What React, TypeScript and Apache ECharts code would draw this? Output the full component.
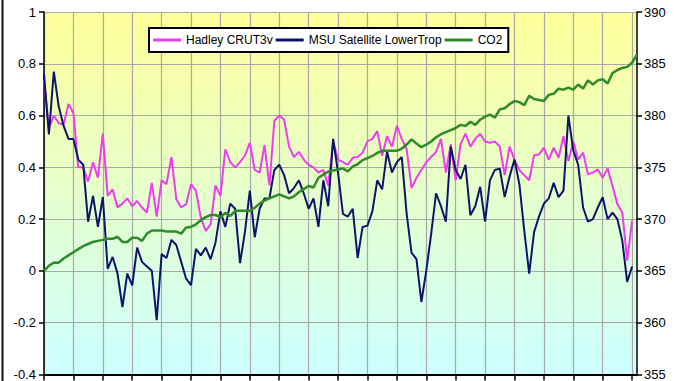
import React, { useEffect, useRef } from "react";
import * as echarts from "echarts";

const monthNames = ["Jan", "Feb", "Mar", "Apr", "May", "Jun", "Jul", "Aug", "Sep", "Oct", "Nov", "Dec"];
const categories: string[] = [];
for (let i = 0; i < 122; i++) {
  const m = (1 + i) % 12;
  const y = 1998 + Math.floor((1 + i) / 12);
  categories.push(`${monthNames[m]} ${y}`);
}

const hadley = [
  0.74, 0.55, 0.6, 0.57, 0.565, 0.645, 0.61, 0.4, 0.4, 0.345, 0.42, 0.36,
  0.53, 0.29, 0.315, 0.245, 0.26, 0.28, 0.25, 0.27, 0.245, 0.225, 0.34, 0.21,
  0.35, 0.335, 0.44, 0.277, 0.245, 0.258, 0.335, 0.31, 0.206, 0.155, 0.18, 0.33,
  0.29, 0.47, 0.42, 0.4, 0.42, 0.445, 0.495, 0.39, 0.38, 0.486, 0.33, 0.58,
  0.6, 0.585, 0.48, 0.44, 0.46, 0.43, 0.41, 0.4, 0.38, 0.39, 0.33, 0.5,
  0.43, 0.42, 0.41, 0.437, 0.44, 0.456, 0.5, 0.51, 0.54, 0.445, 0.52, 0.48,
  0.56, 0.51, 0.47, 0.32, 0.36, 0.39, 0.42, 0.44, 0.46, 0.51, 0.38, 0.49,
  0.35, 0.49, 0.53, 0.48, 0.51, 0.53, 0.5, 0.495, 0.5, 0.48, 0.37, 0.48,
  0.43, 0.39, 0.37, 0.35, 0.447, 0.45, 0.476, 0.43, 0.476, 0.437, 0.52, 0.424,
  0.5, 0.43, 0.457, 0.373, 0.38, 0.392, 0.36, 0.396, 0.328, 0.258, 0.226, 0.04,
  0.194,
];

const msu = [
  0.76, 0.527, 0.77, 0.636, 0.56, 0.51, 0.51, 0.43, 0.41, 0.19, 0.29, 0.17,
  0.285, 0.008, 0.054, -0.01, -0.14, -0.01, -0.056, 0.09, 0.035, 0.017, 0.001, -0.19,
  0.065, 0.05, 0.12, 0.1, 0.035, -0.03, -0.055, 0.085, 0.06, 0.09, 0.045, 0.11,
  0.23, 0.17, 0.26, 0.24, 0.03, 0.15, 0.31, 0.13, 0.24, 0.28, 0.28, 0.39,
  0.41, 0.37, 0.3, 0.32, 0.35, 0.3, 0.24, 0.28, 0.17, 0.35, 0.25, 0.51,
  0.38, 0.22, 0.21, 0.24, 0.05, 0.17, 0.175, 0.23, 0.35, 0.315, 0.46, 0.38,
  0.42, 0.44, 0.22, 0.07, 0.046, -0.12, 0.0, 0.143, 0.3, 0.25, 0.19, 0.48,
  0.39, 0.355, 0.41, 0.215, 0.25, 0.325, 0.19, 0.35, 0.39, 0.395, 0.285, 0.365,
  0.43, 0.335, 0.155, -0.01, 0.15, 0.21, 0.26, 0.28, 0.34, 0.285, 0.31, 0.6,
  0.465, 0.41, 0.245, 0.19, 0.2, 0.245, 0.285, 0.2, 0.225, 0.2, 0.117, -0.043,
  0.017,
];

const co2 = [
  365.0, 365.5, 365.8, 365.8, 366.2, 366.5, 366.8, 367.1, 367.4, 367.6, 367.8, 367.9,
  368.0, 368.1, 368.1, 368.3, 367.8, 367.8, 368.2, 368.2, 367.9, 368.6, 368.9, 368.9,
  368.9, 368.8, 368.8, 368.8, 368.6, 369.2, 369.25, 369.5, 369.9, 370.2, 370.4, 370.4,
  370.2, 370.6, 370.3, 370.8, 370.8, 370.8, 370.8, 371.1, 371.5, 371.8, 372.0, 372.2,
  372.4, 372.2, 372.0, 372.2, 372.6, 372.9, 373.2, 373.05, 374.0, 374.3, 374.6, 374.7,
  374.8, 374.9, 374.6, 375.1, 375.3, 375.7, 375.9, 376.1, 376.4, 376.6, 376.6, 376.6,
  376.6, 376.8, 377.2, 377.7, 377.3, 376.95, 377.2, 377.5, 377.9, 378.2, 378.4, 378.6,
  378.8, 379.1, 379.0, 379.4, 379.1, 379.6, 379.9, 380.1, 379.8, 380.6, 380.7, 381.1,
  381.4, 381.3, 381.0, 381.9, 381.6, 381.5, 381.4, 382.0, 382.1, 382.6, 382.5, 382.7,
  382.5, 383.0, 382.6, 383.4, 383.0, 383.4, 383.5, 383.1, 384.1, 384.4, 384.6, 384.7,
  385.1, 385.9,
];

const seriesNames = ["Hadley CRUT3v", "MSU Satellite LowerTrop", "CO2"];

const FONT = "'Liberation Sans', Arial, sans-serif";

export default function App() {
  const ref = useRef<HTMLDivElement>(null);
  useEffect(() => {
    document.body.style.margin = "0";
    if (!ref.current) return;
    const chart = echarts.init(ref.current, undefined, { renderer: "svg" });
    chart.setOption({
      animation: false,
      backgroundColor: "#ffffff",
      graphic: [
        {
          type: "line",
          shape: { x1: 2.5, y1: 0, x2: 2.5, y2: 381 },
          style: { stroke: "#111", lineWidth: 2 },
          z: 100,
        },
      ],
      legend: {
        data: seriesNames,
        left: 149,
        top: 28,
        orient: "horizontal",
        backgroundColor: "#ffffff",
        borderColor: "#000",
        borderWidth: 2,
        padding: [6, 6, 6, 4],
        itemGap: 3,
        itemWidth: 28,
        itemHeight: 3,
        icon: "rect",
        textStyle: { fontFamily: FONT, fontSize: 12, color: "#000" },
      },
      grid: {
        left: 44,
        right: 41,
        top: 12,
        bottom: 5,
        show: true,
        borderWidth: 0,
        backgroundColor: new echarts.graphic.LinearGradient(0, 0, 0, 1, [
          { offset: 0, color: "#FFFF99" },
          { offset: 1, color: "#CCFFFF" },
        ]),
      },
      xAxis: {
        type: "category",
        data: categories,
        boundaryGap: false,
        axisLine: { show: true, onZero: false, lineStyle: { color: "#000", width: 2 } },
        axisTick: { show: true, interval: 5, length: 6, lineStyle: { color: "#000", width: 1.5 } },
        axisLabel: { show: false },
        splitLine: { show: true, interval: 5, lineStyle: { color: "#a8a8a8", width: 1.2 } },
      },
      yAxis: [
        {
          type: "value",
          min: -0.4,
          max: 1,
          interval: 0.2,
          position: "left",
          axisLine: { show: true, lineStyle: { color: "#000", width: 1.5 } },
          axisTick: { show: true, length: 5, lineStyle: { color: "#000", width: 1.5 } },
          axisLabel: { fontFamily: FONT, fontSize: 13, color: "#000", margin: 8 },
          splitLine: { show: true, lineStyle: { color: "#a8a8a8", width: 1.2 } },
        },
        {
          type: "value",
          min: 355,
          max: 390,
          interval: 5,
          position: "right",
          axisLine: { show: true, lineStyle: { color: "#000", width: 1.5 } },
          axisTick: { show: true, length: 5, lineStyle: { color: "#000", width: 1.5 } },
          axisLabel: { fontFamily: FONT, fontSize: 13, color: "#000", margin: 7 },
          splitLine: { show: false },
        },
      ],
      series: [
        {
          name: seriesNames[0],
          type: "line",
          data: hadley,
          showSymbol: false,
          symbol: "none",
          lineStyle: { color: "#F03CF0", width: 2 },
          itemStyle: { color: "#F03CF0" },
          z: 2,
        },
        {
          name: seriesNames[1],
          type: "line",
          data: msu,
          showSymbol: false,
          symbol: "none",
          lineStyle: { color: "#0C156B", width: 2 },
          itemStyle: { color: "#0C156B" },
          z: 3,
        },
        {
          name: seriesNames[2],
          type: "line",
          yAxisIndex: 1,
          data: co2,
          showSymbol: false,
          symbol: "none",
          lineStyle: { color: "#2F8A2A", width: 2.5 },
          itemStyle: { color: "#2F8A2A" },
          z: 4,
        },
      ],
    });
    return () => chart.dispose();
  }, []);
  return <div ref={ref} style={{ width: 678, height: 381 }} />;
}
